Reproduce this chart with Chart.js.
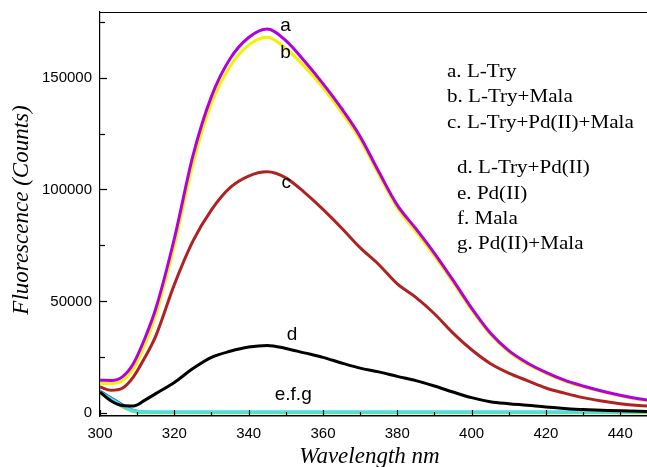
<!DOCTYPE html>
<html>
<head>
<meta charset="utf-8">
<script src="https://cdn.jsdelivr.net/npm/chart.js@4"></script>
<style>
html,body{margin:0;padding:0;background:#fff;}
#wrap{width:647px;height:467px;position:relative;}
</style>
</head>
<body>
<div id="wrap"><canvas id="c" width="647" height="467"></canvas></div>
<script>
// ---- data ----
const wavelengths = [300,303,306,309,312,315,320,325,330,335,340,345,350,355,360,365,370,375,380,385,390,395,400,405,410,415,420,425,430,435,440,445,450];
const seriesA = [14800,14700,16300,22300,33200,46700,78000,115000,141600,158400,167900,171700,166500,157400,147300,136200,123700,108000,93000,82500,71500,59500,47000,36000,28000,22500,18300,14800,12200,10000,8100,6500,5300];
const seriesB = [13300,13300,14500,20000,30500,44000,75000,111500,138500,155000,164500,168000,163000,155000,145500,134500,122300,106800,91800,81200,70300,58500,46200,35400,27500,22000,17800,14400,11800,9700,7800,6200,5100];
const seriesC = [11800,10300,11200,16300,24700,34500,57500,76900,90900,100800,106000,107900,105200,98700,91100,82800,74000,66500,57800,51800,44500,35800,28400,22300,18000,14600,11300,9000,7000,5500,4300,3500,3000];
const seriesD = [9500,5500,3500,3300,5800,8800,13800,20000,25000,27700,29600,30300,29000,27000,25000,22500,20200,18500,16500,14600,12200,9500,7000,5200,4300,3600,2800,2200,1700,1400,1100,900,800];
const seriesE = [9500,6500,3500,1200,700,700,700,700,700,700,700,700,700,700,700,700,700,700,700,700,700,700,700,700,700,700,700,700,700,700,700,700,700];
const seriesF = [9000,6000,3000,800,300,300,300,300,300,300,300,300,300,300,300,300,300,300,300,300,300,300,300,300,300,300,300,300,300,300,300,300,300];
const seriesG = [9800,6800,3800,1300,450,400,400,400,400,400,400,400,400,400,400,400,400,400,400,400,400,400,400,400,400,400,400,400,400,400,400,400,400];

const xTickValues = [300,310,320,330,340,350,360,370,380,390,400,410,420,430,440];
const xLabelValues = [300,320,340,360,380,400,420,440];
const yTickValues = [0,25000,50000,75000,100000,125000,150000,175000];
const yLabelValues = [0,50000,100000,150000];

const legendLines = ["a. L-Try","b. L-Try+Mala","c. L-Try+Pd(II)+Mala","d. L-Try+Pd(II)","e. Pd(II)","f. Mala","g. Pd(II)+Mala"];
const curveLabels = [
  {text:"a", x:349.9, y:173000},
  {text:"b", x:349.9, y:161000},
  {text:"c", x:350.1, y:102900},
  {text:"d", x:351.7, y:35000},
  {text:"e.f.g", x:352, y:8200}
];

function pts(ys){ return wavelengths.map((w,i)=>({x:w,y:ys[i]})); }

const SERIF = '"Liberation Serif","Times New Roman",serif';
const SANS = '"Liberation Sans",Arial,sans-serif';

const decor = {
  id:'decor',
  afterDraw(chart){
    const ctx = chart.ctx, xs = chart.scales.x, ys = chart.scales.y, a = chart.chartArea;
    ctx.save();
    ctx.strokeStyle = '#000'; ctx.lineWidth = 1.2;
    ctx.beginPath(); ctx.moveTo(a.left, a.top+0.5); ctx.lineTo(a.right, a.top+0.5); ctx.stroke();
    yTickValues.forEach(v=>{
      const y = Math.round(ys.getPixelForValue(v))+0.5;
      const len = yLabelValues.includes(v) ? 7 : 5;
      ctx.beginPath(); ctx.moveTo(a.left, y); ctx.lineTo(a.left+len, y); ctx.stroke();
    });
    xTickValues.forEach(v=>{
      const x = Math.round(xs.getPixelForValue(v))+0.5;
      const len = xLabelValues.includes(v) ? 6 : 4;
      ctx.beginPath(); ctx.moveTo(x, a.bottom); ctx.lineTo(x, a.bottom-len); ctx.stroke();
    });
    ctx.fillStyle = '#000';
    ctx.font = 'italic 23px ' + SERIF;
    ctx.textAlign = 'center'; ctx.textBaseline = 'middle';
    ctx.fillText('Wavelength nm', (a.left+a.right)/2 - 4, 457);
    ctx.save();
    ctx.translate(22, 210); ctx.rotate(-Math.PI/2);
    ctx.fillText('Fluorescence (Counts)', 0, 0);
    ctx.restore();
    ctx.font = '19px ' + SANS;
    curveLabels.forEach(l=>{
      ctx.fillText(l.text, xs.getPixelForValue(l.x), ys.getPixelForValue(l.y));
    });
    ctx.font = '18px ' + SERIF;
    ctx.textAlign = 'left';
    const lx = [447,447,447,457,457,457,457];
    const ly = [72,97,123,168,194,219,244];
    legendLines.forEach((t,i)=>{
      ctx.save();
      ctx.translate(lx[i], ly[i]);
      ctx.scale(1.17,1);
      ctx.fillText(t,0,0);
      ctx.restore();
    });
    ctx.restore();
  }
};

const common = {pointRadius:0, borderWidth:3, cubicInterpolationMode:'monotone', fill:false};

new Chart(document.getElementById('c'), {
  type:'line',
  data:{
    datasets:[
      Object.assign({label:'a', data:pts(seriesA), borderColor:'#b000e0'}, common),
      Object.assign({label:'b', data:pts(seriesB), borderColor:'#f2f200'}, common),
      Object.assign({label:'c', data:pts(seriesC), borderColor:'#b02222'}, common),
      Object.assign({label:'d', data:pts(seriesD), borderColor:'#000000'}, common),
      Object.assign({label:'e', data:pts(seriesE), borderColor:'#48e0e8'}, common),
      Object.assign({label:'f', data:pts(seriesF), borderColor:'#80dc60'}, common),
      Object.assign({label:'g', data:pts(seriesG), borderColor:'#2030c0'}, common)
    ]
  },
  options:{
    responsive:false,
    animation:false,
    layout:{padding:{top:12,right:0,left:0,bottom:0}},
    plugins:{legend:{display:false}, tooltip:{enabled:false}},
    scales:{
      x:{
        type:'linear', min:300, max:447.2,
        afterBuildTicks(s){ s.ticks = xTickValues.map(v=>({value:v})); },
        afterFit(s){ s.height = 51; s.paddingLeft = 0; s.paddingRight = 0; },
        grid:{display:false, drawTicks:false},
        border:{display:true, color:'#000', width:1.5},
        ticks:{
          padding:9, maxRotation:0, autoSkip:false, color:'#000',
          font:{family:SANS, size:15},
          callback(v){ return xLabelValues.includes(v) ? String(v) : ''; }
        }
      },
      y:{
        type:'linear', min:-1200, max:179300,
        afterBuildTicks(s){ s.ticks = yTickValues.map(v=>({value:v})); },
        afterFit(s){ s.width = 100; s.paddingTop = 0; s.paddingBottom = 0; },
        grid:{display:false, drawTicks:false},
        border:{display:true, color:'#000', width:1.2},
        ticks:{
          padding:8, autoSkip:false, color:'#000',
          font:{family:SANS, size:15},
          callback(v){ return yLabelValues.includes(v) ? String(v) : ''; }
        }
      }
    }
  },
  plugins:[decor]
});
</script>
</body>
</html>
